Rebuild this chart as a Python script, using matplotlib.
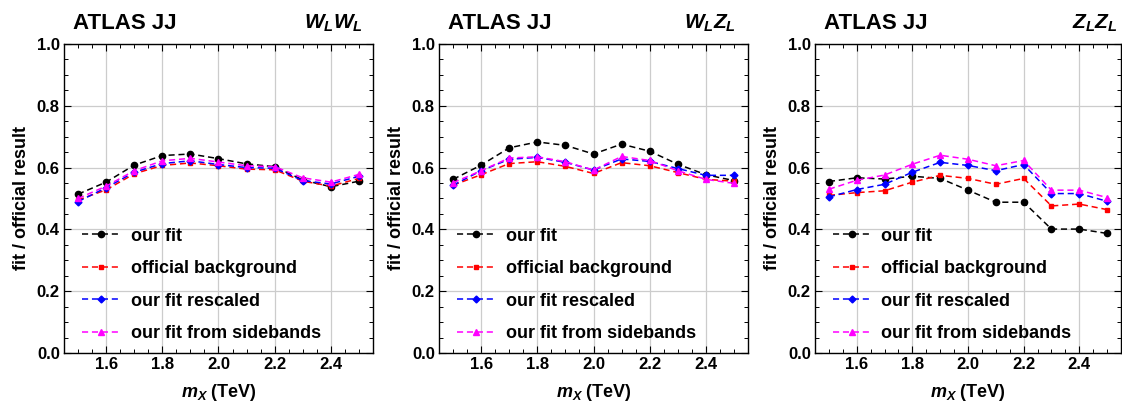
import numpy as np
import matplotlib
matplotlib.use('Agg')
import matplotlib.pyplot as plt
from matplotlib.ticker import MultipleLocator

plt.rcParams['font.family'] = 'Liberation Sans'
plt.rcParams['font.weight'] = 'bold'
plt.rcParams['mathtext.fontset'] = 'custom'
plt.rcParams['mathtext.it'] = 'Liberation Sans:bold:italic'
plt.rcParams['mathtext.rm'] = 'Liberation Sans:bold'

mx = [1.5, 1.6, 1.7, 1.8, 1.9, 2.0, 2.1, 2.2, 2.3, 2.4, 2.5]

labels = ['our fit', 'official background', 'our fit rescaled', 'our fit from sidebands']
channels = [r'$W_LW_L$', r'$W_LZ_L$', r'$Z_LZ_L$']

# W_L W_L
ww_fit = [0.514, 0.553, 0.608, 0.639, 0.644, 0.629, 0.612, 0.603, 0.560, 0.538, 0.556]
ww_off = [0.495, 0.528, 0.580, 0.607, 0.615, 0.606, 0.595, 0.593, 0.556, 0.540, 0.565]
ww_resc = [0.490, 0.535, 0.585, 0.613, 0.622, 0.610, 0.600, 0.598, 0.558, 0.547, 0.572]
ww_side = [0.500, 0.540, 0.590, 0.622, 0.630, 0.618, 0.606, 0.603, 0.567, 0.553, 0.578]

# W_L Z_L
wz_fit = [0.562, 0.608, 0.664, 0.683, 0.672, 0.644, 0.676, 0.653, 0.611, 0.577, 0.558]
wz_off = [0.543, 0.577, 0.613, 0.619, 0.604, 0.581, 0.616, 0.606, 0.584, 0.562, 0.556]
wz_resc = [0.543, 0.590, 0.627, 0.633, 0.617, 0.592, 0.628, 0.620, 0.597, 0.575, 0.575]
wz_side = [0.551, 0.590, 0.631, 0.635, 0.619, 0.592, 0.636, 0.623, 0.590, 0.562, 0.549]

# Z_L Z_L
zz_fit = [0.555, 0.567, 0.563, 0.572, 0.565, 0.527, 0.488, 0.488, 0.401, 0.401, 0.387]
zz_off = [0.510, 0.519, 0.525, 0.553, 0.575, 0.565, 0.546, 0.565, 0.476, 0.482, 0.464]
zz_resc = [0.505, 0.529, 0.546, 0.585, 0.617, 0.607, 0.590, 0.610, 0.516, 0.516, 0.491]
zz_side = [0.530, 0.559, 0.576, 0.611, 0.640, 0.627, 0.606, 0.623, 0.527, 0.527, 0.503]

panels = [
    [ww_fit, ww_off, ww_resc, ww_side],
    [wz_fit, wz_off, wz_resc, wz_side],
    [zz_fit, zz_off, zz_resc, zz_side],
]

colors = ['black', '#ff0000', '#0000ff', '#ff00ff']
markers = ['o', 's', 'D', '^']
msizes = [4.5, 3.5, 3.5, 4.5]

fig = plt.figure(figsize=(11.22, 4.03), dpi=100)
lefts = [64 / 1122, 439 / 1122, 815 / 1122]
widths = [309 / 1122, 309 / 1122, 306 / 1122]
title_x = [0.968, 0.96, 0.99]

for i in range(3):
    ax = fig.add_axes([lefts[i], 50 / 403, widths[i], 309 / 403])
    for j in range(4):
        ax.plot(mx, panels[i][j], color=colors[j], marker=markers[j], ms=msizes[j],
                lw=1.1, linestyle=(0, (4, 2.5)), label=labels[j])
    ax.set_xlim(1.45, 2.55)
    ax.set_ylim(0, 1.0)
    ax.xaxis.set_minor_locator(MultipleLocator(0.05))
    ax.yaxis.set_major_locator(MultipleLocator(0.2))
    ax.yaxis.set_minor_locator(MultipleLocator(0.05))
    ax.set_xticks([1.6, 1.8, 2.0, 2.2, 2.4])
    ax.xaxis.set_major_formatter(plt.FormatStrFormatter('%.1f'))
    ax.yaxis.set_major_formatter(plt.FormatStrFormatter('%.1f'))
    ax.grid(True, which='major', color='#cccccc', lw=0.9)
    ax.set_axisbelow(True)
    ax.tick_params(which='both', direction='in', top=True, right=True, labelsize=12, pad=3)
    ax.tick_params(which='major', length=5, width=0.8)
    ax.tick_params(which='minor', length=3, width=0.7)
    for s in ax.spines.values():
        s.set_linewidth(1.0)
    ax.set_xlabel(r'$m_X$ (TeV)', fontsize=13, fontweight='bold', labelpad=7)
    ax.set_ylabel('fit / official result', fontsize=13, fontweight='bold', labelpad=5)
    ax.text(0.03, 1.048, 'ATLAS JJ', transform=ax.transAxes, fontsize=16,
            fontweight='bold', ha='left', va='baseline')
    ax.text(title_x[i], 1.048, channels[i], transform=ax.transAxes, fontsize=15,
            ha='right', va='baseline')
    ax.legend(loc='lower left', bbox_to_anchor=(0.058, 0.035), frameon=False,
              fontsize=13, handlelength=2.1, handletextpad=0.6, labelspacing=0.86,
              borderaxespad=0, borderpad=0, markerscale=1.0)

fig.savefig('out.png', dpi=100)
